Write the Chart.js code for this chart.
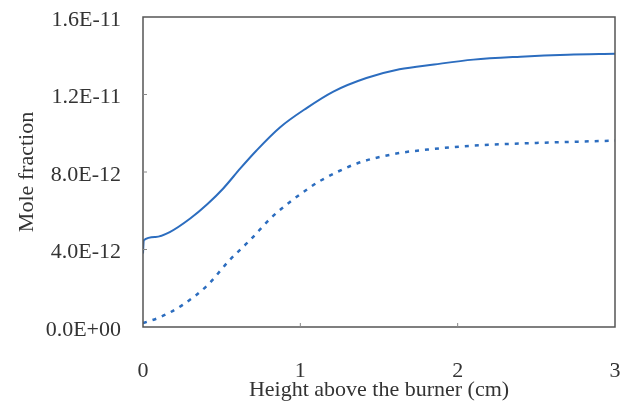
<!DOCTYPE html>
<html lang="en">
<head>
    <meta charset="UTF-8">
    <title>Mole fraction</title>
    <script src="https://cdn.jsdelivr.net/npm/chart.js"></script>
    <style>
        body { margin: 0; background: #fff; }
        #wrap { width: 637px; height: 405px; }
    </style>
</head>
<body>
    <div id="wrap"><canvas id="chart" width="637" height="405"></canvas></div>
    <script>
        // values in units of 1E-12
        const heightSolid = [0, 0.005, 0.08, 0.17, 0.30, 0.41, 0.51, 0.62, 0.72, 0.87, 1.04, 1.21, 1.42, 1.63, 1.85, 2.1, 2.4, 2.7, 3.0];
        const moleSolid = [3.8, 4.48, 4.65, 4.9, 5.6, 6.35, 7.15, 8.2, 9.1, 10.3, 11.3, 12.15, 12.85, 13.3, 13.55, 13.8, 13.95, 14.05, 14.1];
        const heightDashed = [0, 0.11, 0.25, 0.41, 0.55, 0.68, 0.81, 0.93, 1.06, 1.13, 1.36, 1.61, 1.81, 2.1, 2.5, 3.0];
        const moleDashed = [0.2, 0.51, 1.13, 2.16, 3.45, 4.48, 5.6, 6.43, 7.2, 7.56, 8.44, 8.95, 9.16, 9.36, 9.5, 9.62];
        const xTickLabels = ['0', '1', '2', '3'];
        const yTickLabels = ['0.0E+00', '4.0E-12', '8.0E-12', '1.2E-11', '1.6E-11'];

        const blue = '#2c6dbf';
        const font = { family: 'Liberation Serif', size: 22 };

        const toPoints = (xs, ys) => xs.map((x, i) => ({ x: x, y: ys[i] }));

        // box and inward tick marks
        const frame = {
            id: 'frame',
            afterDraw(chart) {
                const { ctx, chartArea: a, scales } = chart;
                ctx.save();
                ctx.strokeStyle = '#555';
                ctx.lineWidth = 1.5;
                ctx.strokeRect(a.left, a.top, a.right - a.left, a.bottom - a.top);
                ctx.lineWidth = 1;
                ctx.strokeStyle = '#888';
                ctx.beginPath();
                [1, 2].forEach(v => {
                    const px = scales.x.getPixelForValue(v);
                    ctx.moveTo(px, a.bottom);
                    ctx.lineTo(px, a.bottom - 4);
                });
                [4, 8, 12].forEach(v => {
                    const py = scales.y.getPixelForValue(v);
                    ctx.moveTo(a.left, py);
                    ctx.lineTo(a.left + 4, py);
                });
                ctx.stroke();
                ctx.restore();
            }
        };

        new Chart(document.getElementById('chart'), {
            type: 'line',
            data: {
                datasets: [{
                    data: toPoints(heightSolid, moleSolid),
                    borderColor: blue,
                    borderWidth: 2,
                    pointRadius: 0,
                    cubicInterpolationMode: 'monotone'
                }, {
                    data: toPoints(heightDashed, moleDashed),
                    borderColor: blue,
                    borderWidth: 2.5,
                    borderDash: [4, 6],
                    pointRadius: 0,
                    cubicInterpolationMode: 'monotone'
                }]
            },
            options: {
                responsive: false,
                animation: false,
                layout: { padding: { left: 0, right: 22, top: 17, bottom: 0 } },
                plugins: { legend: { display: false }, tooltip: { enabled: false } },
                scales: {
                    x: {
                        type: 'linear',
                        min: 0, max: 3,
                        grid: { display: false },
                        border: { display: false },
                        ticks: {
                            stepSize: 1,
                            padding: 23,
                            color: '#333',
                            font: font,
                            callback: (v, i) => xTickLabels[i]
                        },
                        title: {
                            display: true,
                            text: 'Height above the burner (cm)',
                            color: '#333',
                            font: font,
                            padding: { top: 0, bottom: 2 }
                        },
                        afterFit: s => {
                            s.height = 78;
                            s.paddingLeft = 0;
                            s.paddingRight = 0;
                        }
                    },
                    y: {
                        min: 0, max: 16,
                        grid: { display: false },
                        border: { display: false },
                        ticks: {
                            stepSize: 4,
                            padding: 14,
                            labelOffset: 3,
                            color: '#333',
                            font: font,
                            callback: (v, i) => yTickLabels[i]
                        },
                        title: {
                            display: true,
                            text: 'Mole fraction',
                            color: '#333',
                            font: font,
                            padding: { top: 14, bottom: 0 }
                        },
                        afterFit: s => {
                            s.width = 143;
                            s.paddingTop = 0;
                            s.paddingBottom = 0;
                        }
                    }
                }
            },
            plugins: [frame]
        });
    </script>
</body>
</html>
